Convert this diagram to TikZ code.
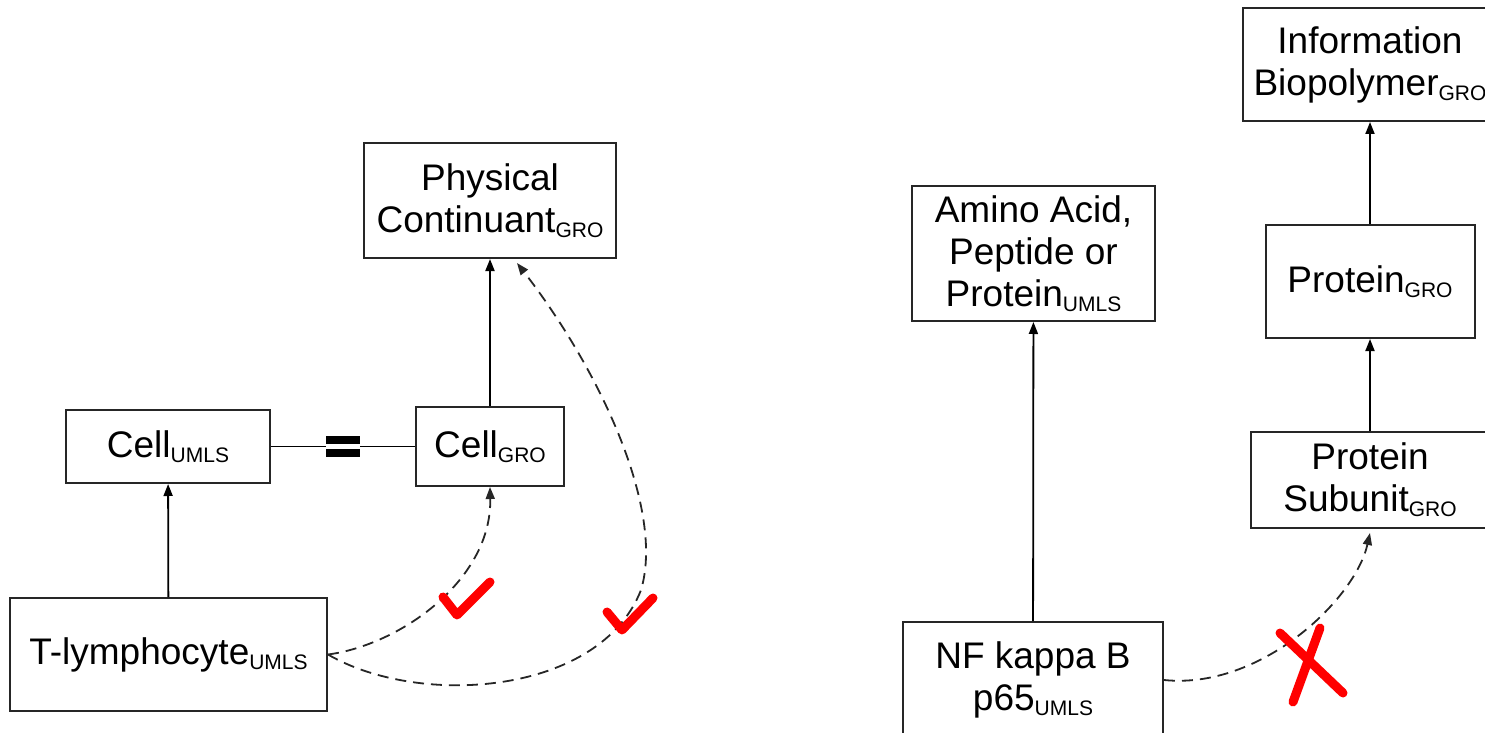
\documentclass[tikz,border=0pt]{standalone}
\usepackage{fontspec}
\setmainfont{Liberation Sans}
\usetikzlibrary{arrows.meta}
\newcommand\onto[1]{\raisebox{-2.5pt}{\fontsize{10.5pt}{12pt}\selectfont #1}}
\tikzset{
  term/.style={draw=black!85, line width=1pt, inner sep=0pt, align=center,
    font=\fontsize{18.5pt}{21pt}\selectfont},
  isa/.style={-{Triangle[length=6pt,width=4.5pt]}, line width=0.9pt},
  map/.style={isa, black!85, dash pattern=on 5.5pt off 3.5pt},
  tick/.style={red, line width=4.5pt, line cap=round, line join=round},
  eqsign/.style={inner sep=0pt, minimum width=17pt, minimum height=10.5pt,
    path picture={
      \fill (path picture bounding box.north west) rectangle ([yshift=-4pt]path picture bounding box.north east);
      \fill ([yshift=4pt]path picture bounding box.south west) rectangle (path picture bounding box.south east);
    }}
}
\begin{document}
\begin{tikzpicture}[x=0.5pt,y=-0.5pt]
      \useasboundingbox (0,0) rectangle (1485,733);
      \clip (0,0) rectangle (1485,733);
      \draw
        (490,200.5) node[term, minimum width=126pt, minimum height=57.5pt] (pc) {Physical\\Continuant\onto{GRO}}
        (168,446.5) node[term, minimum width=102pt, minimum height=36.5pt] (cellU) {Cell\onto{UMLS}}
        (490,446.5) node[term, minimum width=74pt, minimum height=39.5pt] (cellG) {Cell\onto{GRO}}
        (168.5,654.5) node[term, minimum width=158.5pt, minimum height=56.5pt] (tl) {T-lymphocyte\onto{UMLS}}
        (343,446.5) node[eqsign] (eq) {}
        (1033.5,253.5) node[term, minimum width=121.5pt, minimum height=67.5pt] (aa) {Amino Acid,\\Peptide or\\Protein\onto{UMLS}}
        (1033,680) node[term, minimum width=130pt, minimum height=58pt] (nf) {NF kappa B\\p65\onto{UMLS}}
        (1370,64.5) node[term, minimum width=127pt, minimum height=56.5pt] (ib) {Information\\Biopolymer\onto{GRO}}
        (1370,281.5) node[term, minimum width=104.5pt, minimum height=56.5pt] (pg) {Protein\onto{GRO}}
        (1370,480) node[term, minimum width=119pt, minimum height=48pt] (ps) {Protein\\Subunit\onto{GRO}};
      \begin{scope}[isa]
        \draw (tl) to (cellU);
        \draw (cellG) to (pc);
        \draw (nf) to (aa);
        \draw (ps) to (pg);
        \draw (pg) to (ib);
      \end{scope}
      \draw[line width=0.9pt] (cellU) -- (eq) -- (cellG);
      \begin{scope}[map]
        \draw (tl.east) .. controls (400,645) and (492,580) .. (cellG.south);
        \draw (tl.east) .. controls (420,708) and (600,695) .. (641,590)
          .. controls (665,510) and (600,370) .. ([xshift=13.5pt,yshift=-2pt]pc.south);
        \draw (nf.east) .. controls (1260,690) and (1355,600) .. ([yshift=-2pt]ps.south);
      \end{scope}
      \draw[tick] (443,597) -- (457,615) -- (490,582);
      \draw[tick] (607,612) -- (622,630) -- (653,598);
      \draw[tick] (1280,633) -- (1343,693) (1320,628) -- (1293,702);
    \end{tikzpicture}
\end{document}
